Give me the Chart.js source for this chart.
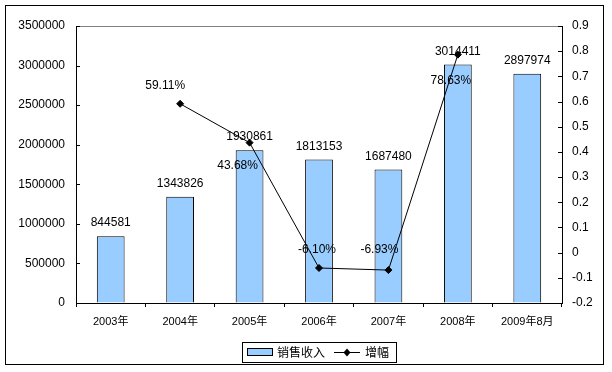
<!DOCTYPE html>
<html>
<head>
<meta charset="utf-8">
<script src="https://cdn.jsdelivr.net/npm/chart.js@4.4.1/dist/chart.umd.min.js"></script>
<style>
  html, body { margin: 0; padding: 0; background: #fff; }
  #wrap { width: 612px; height: 372px; position: relative; }
</style>
</head>
<body>
<div id="wrap"><canvas id="myChart" width="612" height="372"></canvas></div>
<script>
// data
const categories = ['2003年', '2004年', '2005年', '2006年', '2007年', '2008年', '2009年8月'];
const revenue = [844581, 1343826, 1930861, 1813153, 1687480, 3014411, 2897974];
const growth = [null, 0.5911, 0.4368, -0.0610, -0.0693, 0.7863, null];
const growthLabels = [null, '59.11%', '43.68%', '-6.10%', '-6.93%', '78.63%', null];
const seriesNames = ['销售收入', '增幅'];

// label nudges for the percent labels (dx, dy in px)
const pctOffsets = [null, [-15, -18], [-12, 23], [-2, -18], [-9, -20], [-7, 26], null];

const FONT = '"Liberation Sans", Arial, "Noto Sans CJK SC", sans-serif';
const TEXT = '#000';

const frame = {
    id: 'frame',
    afterDraw(chart) {
        const ctx = chart.ctx;
        const area = chart.chartArea;
        const y = chart.scales.y;
        const y1 = chart.scales.y1;
        ctx.save();

        // inside tick marks
        ctx.strokeStyle = '#000';
        ctx.lineWidth = 1;
        y.ticks.forEach(function(t) {
            const py = Math.round(y.getPixelForValue(t.value)) + 0.5;
            ctx.beginPath();
            ctx.moveTo(area.left, py);
            ctx.lineTo(area.left + 4, py);
            ctx.stroke();
        });
        y1.ticks.forEach(function(t) {
            const py = Math.round(y1.getPixelForValue(t.value)) + 0.5;
            ctx.beginPath();
            ctx.moveTo(area.right - 4, py);
            ctx.lineTo(area.right, py);
            ctx.stroke();
        });

        // value labels
        ctx.font = '12px ' + FONT;
        ctx.fillStyle = TEXT;
        ctx.textAlign = 'center';
        ctx.textBaseline = 'middle';
        chart.getDatasetMeta(0).data.forEach(function(bar, i) {
            ctx.fillText(String(revenue[i]), bar.x, bar.y - 13);
        });
        chart.getDatasetMeta(1).data.forEach(function(pt, i) {
            if (growth[i] === null) return;
            const off = pctOffsets[i];
            ctx.fillText(growthLabels[i], pt.x + off[0], pt.y + off[1]);
        });

        // legend
        const lx = 242, ly = 342, lw = 154, lh = 20;
        ctx.strokeStyle = '#000';
        ctx.strokeRect(lx + 0.5, ly + 0.5, lw, lh);
        ctx.fillStyle = '#99CCFF';
        ctx.fillRect(247.5, 348.5, 25, 7);
        ctx.strokeRect(247.5, 348.5, 25, 7);
        ctx.fillStyle = TEXT;
        ctx.textAlign = 'left';
        ctx.font = '12px "Noto Sans CJK SC", sans-serif';
        ctx.fillText(seriesNames[0], 277, 352);
        ctx.beginPath();
        ctx.moveTo(334, 352.5);
        ctx.lineTo(360, 352.5);
        ctx.stroke();
        ctx.beginPath();
        ctx.moveTo(347, 348.5);
        ctx.lineTo(350.5, 352.5);
        ctx.lineTo(347, 356.5);
        ctx.lineTo(343.5, 352.5);
        ctx.closePath();
        ctx.fill();
        ctx.fillText(seriesNames[1], 365, 352);

        // outer border
        ctx.strokeRect(5.5, 5.5, 598, 359);
        ctx.restore();
    }
};

const ctx = document.getElementById('myChart').getContext('2d');

const chart = new Chart(ctx, {
    type: 'bar',
    data: {
        labels: categories,
        datasets: [{
            label: seriesNames[0],
            data: revenue,
            yAxisID: 'y',
            backgroundColor: '#99CCFF',
            borderColor: '#000',
            borderWidth: 1,
            categoryPercentage: 1,
            barPercentage: 0.4,
            order: 2
        }, {
            type: 'line',
            label: seriesNames[1],
            data: growth,
            yAxisID: 'y1',
            borderColor: '#000',
            borderWidth: 1,
            backgroundColor: '#000',
            pointStyle: 'rectRot',
            pointRadius: 3.5,
            pointBackgroundColor: '#000',
            pointBorderColor: '#000',
            tension: 0,
            order: 1
        }]
    },
    options: {
        responsive: false,
        animation: false,
        devicePixelRatio: 1,
        layout: { padding: { top: 26, left: 0, right: 0, bottom: 0 } },
        plugins: {
            legend: { display: false },
            tooltip: { enabled: false }
        },
        scales: {
            x: {
                offset: true,
                afterFit: function(s) { s.height = 69; },
                grid: {
                    offset: true,
                    drawOnChartArea: false,
                    drawTicks: true,
                    tickLength: 4,
                    color: '#000'
                },
                border: { color: '#000', width: 1 },
                ticks: {
                    color: TEXT,
                    font: { family: FONT, size: 11 },
                    padding: 8,
                    maxRotation: 0,
                    autoSkip: false
                }
            },
            y: {
                position: 'left',
                min: 0,
                max: 3500000,
                afterFit: function(s) { s.width = 76; },
                grid: {
                    drawTicks: false,
                    color: function(c) { return c.tick.value === 3500000 ? '#808080' : 'rgba(0,0,0,0)'; }
                },
                border: { color: '#000', width: 1 },
                ticks: {
                    stepSize: 500000,
                    color: TEXT,
                    font: { family: FONT, size: 12 },
                    padding: 11,
                    callback: function(v) { return String(v); }
                }
            },
            y1: {
                position: 'right',
                min: -0.2,
                max: 0.9,
                afterFit: function(s) { s.width = 50; },
                grid: { drawOnChartArea: false, drawTicks: false },
                border: { color: '#000', width: 1 },
                ticks: {
                    stepSize: 0.1,
                    color: TEXT,
                    font: { family: FONT, size: 12 },
                    padding: 10,
                    callback: function(v) { return String(Math.round(v * 10) / 10); }
                }
            }
        }
    },
    plugins: [frame]
});
</script>
</body>
</html>
